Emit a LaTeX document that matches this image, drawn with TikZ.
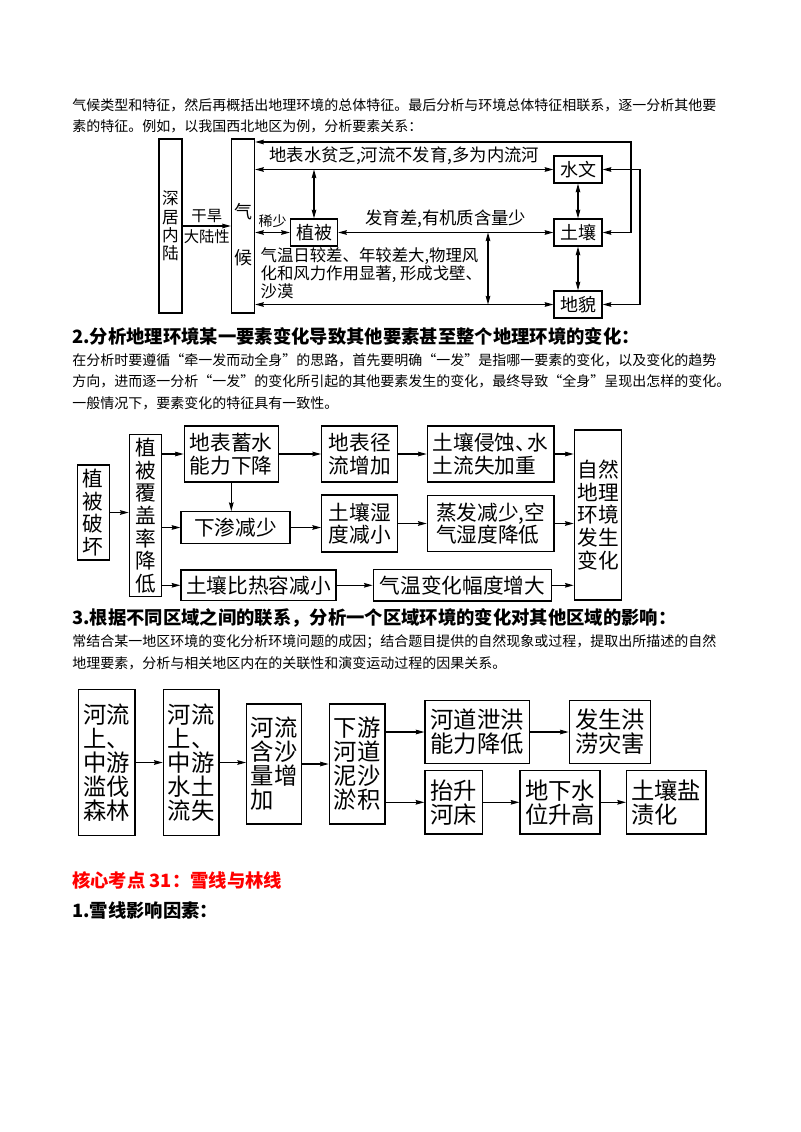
\documentclass[tikz,border=0pt]{standalone}
\usepackage{fontspec}
\setmainfont{Noto Sans CJK SC}
\usetikzlibrary{arrows.meta,positioning}
\newcommand\fullline[1]{{\XeTeXlinebreaklocale "zh"\XeTeXlinebreakskip=0pt plus 1pt\makebox[501pt][s]{#1}}}
\tikzset{
  sz/.style 2 args={minimum width=#1*0.75pt, minimum height=#2*0.75pt},
  box1/.style={draw, line width=1pt, inner sep=0pt, align=center, font=\fontsize{13.5}{15}\selectfont},
  box2/.style={draw, line width=1pt, inner sep=0pt, align=center, font=\fontsize{15.5}{17}\selectfont},
  box3/.style={draw, line width=1pt, inner sep=0pt, align=left, font=\fontsize{17.5}{18}\selectfont},
  lbl/.style={inner sep=1pt, font=\fontsize{13}{14}\selectfont},
  arr/.style={-{Stealth[length=6.5pt,width=3.5pt,inset=0.8pt]}, line width=0.8pt},
  dbl/.style={{Stealth[length=6.5pt,width=3.5pt,inset=0.8pt]}-{Stealth[length=6.5pt,width=3.5pt,inset=0.8pt]}, line width=0.8pt},
  body/.style={anchor=west, inner sep=0pt, font=\fontsize{10.5}{12}\selectfont},
  head/.style={anchor=west, inner sep=0pt, font=\fontsize{13.75}{15}\selectfont\bfseries}
}
\begin{document}
\begin{tikzpicture}[x=0.75pt, y=-0.75pt]
\useasboundingbox (0,0) rectangle (800,1132);

\node[body] (introA) at (72,105) {\fullline{气候类型和特征，然后再概括出地理环境的总体特征。最后分析与环境总体特征相联系，逐一分析其他要}};
\node[body] (introB) at (72,126.5) {素的特征。例如，以我国西北地区为例，分析要素关系：};

% west-north region
\node[box1, sz={23}{174}, font=\fontsize{12.5}{13.8}\selectfont] (shenju) at (170.5,226) {深\\居\\内\\陆};
\node[box1, sz={23}{174}] (qihou) at (243,226) {\rule{0pt}{24pt}气\\[19.5pt]候};
\node[box1, sz={48}{27}] (shuiwen) at (578,169.5) {水文};
\node[box1, sz={47}{27}] (zhibei) at (314,232.5) {植被};
\node[box1, sz={48}{27}] (turang) at (578,232.5) {土壤};
\node[box1, sz={48}{27}] (dimao) at (578,304.5) {地貌};
\coordinate (railA) at (631,142);
\coordinate (railB) at (640,169.5);
\coordinate (vmid) at (488,232.5);

\draw[arr] (shenju) -- node[lbl, above=1pt, font=\fontsize{11.5}{12}\selectfont] {干旱} node[lbl, below=1pt, font=\fontsize{11.5}{12}\selectfont] {大陆性} (qihou);
\draw[dbl] (qihou.east |- railA) -- (railA) |- (turang);
\draw[dbl] (qihou.east |- shuiwen) -- node[lbl, above=2pt] {地表水贫乏,河流不发育,多为内流河} (shuiwen);
\draw[dbl] (shuiwen) -- (railB) |- (dimao);
\draw[dbl] (zhibei |- shuiwen) -- (zhibei);
\draw[dbl] (qihou.east |- zhibei) -- node[lbl, above=2pt, font=\fontsize{10.5}{12}\selectfont] {稀少} (zhibei);
\draw[dbl] (zhibei) -- node[lbl, above=2pt] {发育差,有机质含量少} (turang);
\draw[dbl] (vmid) -- (vmid |- dimao);
\draw[dbl] (qihou.east |- dimao) -- (dimao);
\draw[dbl] (shuiwen) -- (turang);
\draw[dbl] (turang) -- (dimao);
\node[lbl, anchor=north west, align=left, font=\fontsize{12.3}{13.6}\selectfont] (qiwentxt) at (259,246) {气温日较差、年较差大,物理风\\化和风力作用显著, 形成戈壁、\\沙漠};

\node[head] (headB) at (72,336) {2.分析地理环境某一要素变化导致其他要素甚至整个地理环境的变化：};
\node[body] (textB1) at (72,360) {\fullline{在分析时要遵循“牵一发而动全身”的思路，首先要明确“一发”是指哪一要素的变化，以及变化的趋势}};
\node[body] (textB2) at (72,381.5) {\fullline{方向，进而逐一分析“一发”的变化所引起的其他要素发生的变化，最终导致“全身”呈现出怎样的变化。}};
\node[body] (textB3) at (72,403) {一般情况下，要素变化的特征具有一致性。};

% vegetation chain
\node[box2, sz={32}{95}] (pohuai) at (93.3,512.5) {植\\被\\破\\坏};
\node[box2, sz={32.4}{162.4}] (fugai) at (145.5,515.5) {植\\被\\覆\\盖\\率\\降\\低};
\node[box2, sz={94}{56}] (xushui) at (231.3,454) {地表蓄水\\能力下降};
\node[box2, sz={76}{56}] (jingliu) at (359.7,454) {地表径\\流增加};
\node[box2, sz={126.7}{56}, align=left] (qinshi) at (490.7,454) {土壤侵蚀、\kern-.4em 水\\土流失加重};
\node[box2, sz={47.4}{170}] (bianhua) at (598,515) {自然\\地理\\环境\\发生\\变化};
\node[box2, sz={109}{31.6}] (xiashen) at (235.5,527.5) {下渗减少};
\node[box2, sz={76}{56.7}] (shidu) at (359.7,523.5) {土壤湿\\度减小};
\node[box2, sz={126.7}{56}, align=left] (zhengfa) at (490.7,523.5) {蒸发减少,空\\气湿度降低};
\node[box2, sz={155}{30.7}] (birong) at (258.5,585.3) {土壤比热容减小};
\node[box2, sz={178.4}{31.7}] (qiwen) at (462.5,585.3) {气温变化幅度增大};

\draw[arr] (pohuai.east) -- (pohuai.east -| fugai.west);
\draw[arr] (fugai.east |- xushui) -- (xushui);
\draw[arr] (fugai.east |- xiashen) -- (xiashen);
\draw[arr] (fugai.east |- birong) -- (birong);
\draw[arr] (xushui) -- (jingliu);
\draw[arr] (jingliu) -- (qinshi);
\draw[arr] (qinshi) -- (qinshi -| bianhua.west);
\draw[arr] (xushui) -- (xushui |- xiashen.north);
\draw[arr] (xiashen) -- (xiashen -| shidu.west);
\draw[arr] (shidu) -- (zhengfa);
\draw[arr] (zhengfa) -- (zhengfa -| bianhua.west);
\draw[arr] (birong) -- (qiwen);
\draw[arr] (qiwen) -- (qiwen -| bianhua.west);

\node[head] (headC) at (72,618) {3.根据不同区域之间的联系，分析一个区域环境的变化对其他区域的影响：};
\node[body] (textC1) at (72,642) {\fullline{常结合某一地区环境的变化分析环境问题的成因；结合题目提供的自然现象或过程，提取出所描述的自然}};
\node[body] (textC2) at (72,663.5) {地理要素，分析与相关地区内在的关联性和演变运动过程的因果关系。};

% river chain
\node[box3, sz={56.7}{146}] (lanfa) at (106.7,762.5) {河流\\上、\\中游\\滥伐\\森林};
\node[box3, sz={55.7}{146}] (shuitu) at (191.2,762.5) {河流\\上、\\中游\\水土\\流失};
\node[box3, sz={55}{120}] (hansha) at (274.2,764) {河流\\含沙\\量增\\加};
\node[box3, sz={55.7}{120}] (yuji) at (357.2,764) {下游\\河道\\泥沙\\淤积};
\node[box3, sz={104.3}{62.6}] (xiehong) at (477.2,732) {河道泄洪\\能力降低};
\node[box3, sz={81.4}{62.6}] (honglao) at (610,732) {发生洪\\涝灾害};
\node[box3, sz={57.7}{63.3}] (taisheng) at (453.8,802.3) {抬升\\河床};
\node[box3, sz={80}{63.3}] (dixiashui) at (560,802.3) {地下水\\位升高};
\node[box3, sz={79.3}{63.3}] (yanzi) at (666.3,802.3) {土壤盐\\渍化};

\draw[arr] (lanfa) -- (shuitu);
\draw[arr] (shuitu) -- (shuitu -| hansha.west);
\draw[arr] (hansha) -- (yuji);
\draw[arr] (yuji.east |- xiehong) -- (xiehong);
\draw[arr] (yuji.east |- taisheng) -- (taisheng);
\draw[arr] (xiehong) -- (honglao);
\draw[arr] (taisheng) -- (dixiashui);
\draw[arr] (dixiashui) -- (yanzi);

\node[head, text=red] (headD) at (72,880) {核心考点 31：雪线与林线};
\node[head] (headE) at (72,911) {1.雪线影响因素：};
\end{tikzpicture}
\end{document}
